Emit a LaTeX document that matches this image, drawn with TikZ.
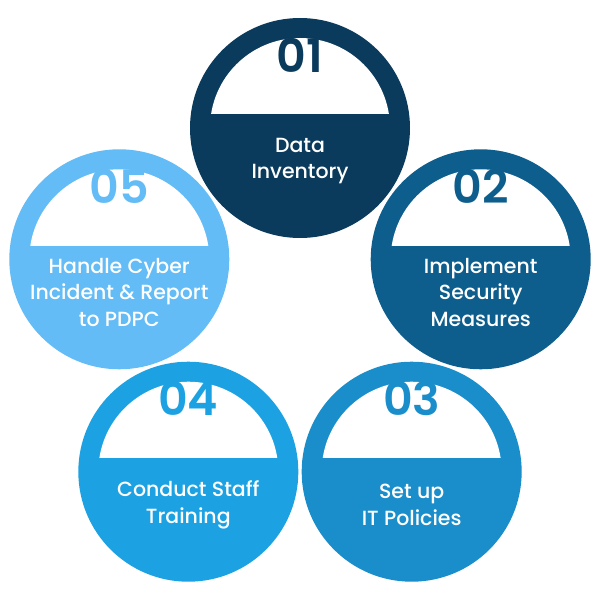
\documentclass[tikz,border=0pt]{standalone}
\usepackage{fontspec}
\setmainfont{Poppins}[UprightFont=* Medium, BoldFont=* SemiBold]
\definecolor{cA}{HTML}{0B3B5C}
\definecolor{cB}{HTML}{0E5E8D}
\definecolor{cC}{HTML}{1A8DCB}
\definecolor{cD}{HTML}{1CA2E2}
\definecolor{cE}{HTML}{63BCF6}
\tikzset{
  disc/.style={circle, fill=#1, draw=none, minimum size=220pt, inner sep=0pt},
  numlabel/.style={text=#1, font=\bfseries\fontsize{46}{46}\selectfont, inner sep=0pt},
  steptext/.style={text=white, align=center, font=\fontsize{20.5}{26.5}\selectfont, inner sep=0pt}
}
\begin{document}
\begin{tikzpicture}[x=1pt,y=1pt]
\useasboundingbox (0,0) rectangle (600,600);
\fill[white] (0,0) rectangle (600,600);
\coordinate (ctr) at (300,282);
\foreach \i/\ang/\col/\num/\txt in {
  1/90/cA/01/{Data\\Inventory},
  2/18/cB/02/{Implement\\Security\\Measures},
  3/-54/cC/03/{Set up\\IT Policies},
  4/-126/cD/04/{Conduct Staff\\Training},
  5/162/cE/05/{Handle Cyber\\Incident \& Report\\to PDPC}} {
  \node[disc=\col] (c\i) at ([shift={(\ang:190)}]ctr) {};
  \begin{scope}
    \clip ([shift={(-100,14)}]c\i.center) rectangle ([shift={(100,100)}]c\i.center);
    \fill[white] (c\i.center) circle (90);
  \end{scope}
  \node[numlabel=\col] (n\i) at ([yshift=73]c\i.center) {\num};
  \node[steptext] (t\i) at ([yshift=-33]c\i.center) {\txt};
}
\end{tikzpicture}
\end{document}
